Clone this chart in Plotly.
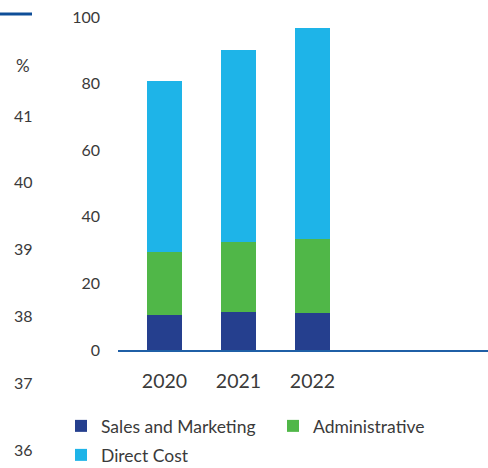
import plotly.graph_objects as go

years = ["2020", "2021", "2022"]
sales_marketing = [10.5, 11.4, 11.1]
administrative = [18.9, 21.0, 22.1]
direct_cost = [51.4, 57.7, 63.5]
y_ticks = [0, 20, 40, 60, 80, 100]
pct_labels = ["41", "40", "39", "38", "37", "36"]

C_NAVY = "#253F8E"
C_GREEN = "#50B748"
C_LBLUE = "#1EB4E8"
TXT = "#3a3a3a"
FONT = "Lato"

# pixel helpers (plot area spans x 118..488, y 17..350)
def px_x(x):
    return (x - 118) / 370

def px_y(y):
    return (350 - y) / 333

xpos = list(range(len(years)))

fig = go.Figure()
series = [
    ("Sales and Marketing", sales_marketing, C_NAVY, "legend"),
    ("Administrative", administrative, C_GREEN, "legend2"),
    ("Direct Cost", direct_cost, C_LBLUE, "legend3"),
]
for name, vals, col, lg in series:
    fig.add_trace(go.Bar(x=xpos, y=vals, name=name, legend=lg,
                         marker=dict(color=col, line=dict(width=0)), width=0.473))

leg_common = dict(orientation="h", xanchor="left", yanchor="middle", traceorder="normal",
                  font=dict(size=17.5, color=TXT), bgcolor="rgba(0,0,0,0)")

fig.update_layout(
    width=488, height=468,
    barmode="stack",
    paper_bgcolor="white", plot_bgcolor="white",
    margin=dict(l=118, r=0, t=17, b=118, autoexpand=False),
    font=dict(family=FONT, color=TXT, size=16),
    showlegend=True,
    legend=dict(x=px_x(61), y=px_y(426), **leg_common),
    legend2=dict(x=px_x(273), y=px_y(426), **leg_common),
    legend3=dict(x=px_x(61), y=px_y(455), **leg_common),
    xaxis=dict(range=[-0.628, 4.372], tickmode="array", tickvals=xpos, ticktext=years,
               showgrid=False, zeroline=False, showline=True, linecolor="#1F5FA6", linewidth=2,
               ticks="", tickfont=dict(size=19.5, color=TXT), ticklabelstandoff=13),
    yaxis=dict(range=[0, 100], tickmode="array", tickvals=y_ticks, showgrid=False,
               zeroline=False, showline=False, ticks="", tickfont=dict(size=16, color=TXT),
               ticklabelstandoff=17, ticklabeloverflow="allow"),
)

# left-hand % scale labels (text only)
fig.add_annotation(text="%", xref="paper", yref="paper", x=px_x(14), y=px_y(65),
                   xanchor="left", yanchor="middle", showarrow=False, font=dict(size=17, color=TXT))
for i, lab in enumerate(pct_labels):
    ypx = 115 + i * 66.8
    fig.add_annotation(text=lab, xref="paper", yref="paper", x=px_x(12), y=px_y(ypx),
                       xanchor="left", yanchor="middle", showarrow=False,
                       font=dict(size=16, color=TXT))

# top-left decorative rule
fig.add_shape(type="line", xref="paper", yref="paper", x0=px_x(0), x1=px_x(32),
              y0=px_y(14), y1=px_y(14), line=dict(color="#0F4E98", width=3))

fig.write_html(
    "out.html",
    config={"displayModeBar": False},
    post_script="document.body.style.margin='0';document.body.style.overflow='hidden';",
)
